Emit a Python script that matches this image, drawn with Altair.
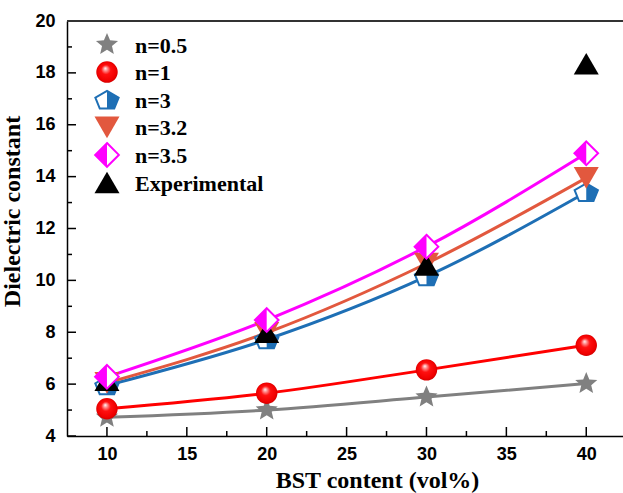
import altair as alt
import pandas as pd

# ---------------- data ----------------
bst = [10, 20, 30, 40]
n05 = [4.72, 5.0, 5.5, 6.02]
n1 = [5.05, 5.65, 6.55, 7.5]
n3 = [5.95, 7.72, 10.15, 13.4]
n32 = [6.05, 7.98, 10.65, 13.95]
n35 = [6.28, 8.47, 11.3, 14.9]
exper = [6.15, 8.0, 10.6, 18.35]

series_names = ["n=0.5", "n=1", "n=3", "n=3.2", "n=3.5", "Experimental"]
series_values = [n05, n1, n3, n32, n35, exper]

y_ticks = [4, 6, 8, 10, 12, 14, 16, 18, 20]
y_minor = [5, 7, 9, 11, 13, 15, 17, 19]
x_ticks = [10, 15, 20, 25, 30, 35, 40]
x_minor = [12.5, 17.5, 22.5, 27.5, 32.5, 37.5]

# ---------------- styles ----------------
W, H = 556, 415
GRAY = "#808080"
RED = "#ff0000"
BLUE = "#1e6fb5"
ORANGE = "#e2583e"
MAG = "#ff00ff"

STAR = ("M0,-1L0.265,-0.364L0.951,-0.309L0.428,0.139L0.588,0.809L0,0.45"
        "L-0.588,0.809L-0.428,0.139L-0.951,-0.309L-0.265,-0.364Z")
PENT = "M0,-0.72L0.95,-0.17L0.59,0.72L-0.59,0.72L-0.95,-0.17Z"
PENT_R = "M0,-0.72L0.95,-0.17L0.59,0.72L0,0.72Z"
DIAM = "M0,-1L1,0L0,1L-1,0Z"
DIAM_L = "M0,-1L0,1L-1,0Z"

sphere = alt.RadialGradient(
    gradient="radial",
    x1=0.42, y1=0.32, r1=0,
    x2=0.5, y2=0.5, r2=0.55,
    stops=[
        alt.GradientStop(color="#ffffff", offset=0.0),
        alt.GradientStop(color="#ff9a9a", offset=0.15),
        alt.GradientStop(color="#ff1010", offset=0.4),
        alt.GradientStop(color="#f00000", offset=0.8),
        alt.GradientStop(color="#c00000", offset=1.0),
    ],
)

marker_styles = {
    "n=0.5": [dict(shape=STAR, fill=GRAY, size=540)],
    "n=1": [dict(shape="circle", fill=sphere, size=460)],
    "n=3": [dict(shape=PENT, fill="white", stroke=BLUE, strokeWidth=2, size=600),
            dict(shape=PENT_R, fill=BLUE, size=600)],
    "n=3.2": [dict(shape="triangle-down", fill=ORANGE, size=625)],
    "n=3.5": [dict(shape=DIAM, fill="white", stroke=MAG, strokeWidth=2, size=560),
              dict(shape=DIAM_L, fill=MAG, size=560)],
    "Experimental": [dict(shape="triangle-up", fill="black", size=625)],
}
marker_order = ["n=0.5", "n=1", "n=3", "n=3.2", "Experimental", "n=3.5"]

rows = []
for name, vals in zip(series_names, series_values):
    for xv, yv in zip(bst, vals):
        rows.append({"series": name, "bst": xv, "eps": yv})
df = pd.DataFrame(rows)
legend_df = pd.DataFrame({"series": series_names})

# ---------------- scales / axes ----------------
xscale = alt.Scale(domain=[7.5, 42.3], nice=False, zero=False)
yscale = alt.Scale(domain=[4, 20], nice=False, zero=False)

xaxis = alt.Axis(
    values=x_ticks, format="d", ticks=False, grid=False,
    domainColor="black", domainWidth=1.5,
    labelFont="Liberation Sans", labelFontWeight="bold", labelFontSize=18,
    labelColor="black", labelPadding=9, labelFlush=False,
    titleFont="Liberation Serif", titleFontWeight="bold", titleFontSize=24,
    titleColor="black", titlePadding=5, titleX=310,
)
yaxis = alt.Axis(
    values=y_ticks, format="d", ticks=False, grid=False,
    domainColor="black", domainWidth=1.5,
    labelFont="Liberation Sans", labelFontWeight="bold", labelFontSize=18,
    labelColor="black", labelPadding=12, labelFlush=False,
    titleFont="Liberation Serif", titleFontWeight="bold", titleFontSize=24,
    titleColor="black", titlePadding=10, titleY=190,
)
XT = "BST content (vol%)"
YT = "Dielectric constant"


def X(field):
    return alt.X(field, type="quantitative", scale=xscale, axis=xaxis, title=XT)


def Y(field):
    return alt.Y(field, type="quantitative", scale=yscale, axis=yaxis, title=YT)


base = alt.Chart(df)

line_names = series_names[:-1]
lines = base.transform_filter(
    alt.FieldOneOfPredicate(field="series", oneOf=line_names)
).mark_line(strokeWidth=3, interpolate="monotone").encode(
    x=X("bst"), y=Y("eps"),
    color=alt.Color("series:N", scale=alt.Scale(domain=line_names,
                    range=[GRAY, RED, BLUE, ORANGE, MAG]), legend=None),
    detail="series:N",
)


def point_layers(src, name, xenc, yenc):
    out = []
    for st in marker_styles[name]:
        kw = dict(st)
        out.append(
            src.transform_filter(alt.datum.series == name)
            .mark_point(filled=True, opacity=1, fillOpacity=1, **kw)
            .encode(x=xenc, y=yenc)
        )
    return out


main_layers = [lines]
for nm in marker_order:
    main_layers += point_layers(base, nm, X("bst"), Y("eps"))

# inward tick marks
ymaj = alt.Chart(pd.DataFrame({"v": y_ticks})).mark_rule(color="black", strokeWidth=1.5).encode(
    y=Y("v"), x=alt.value(0), x2=alt.value(9))
ymin = alt.Chart(pd.DataFrame({"v": y_minor})).mark_rule(color="black", strokeWidth=1.5).encode(
    y=Y("v"), x=alt.value(0), x2=alt.value(5))
xmaj = alt.Chart(pd.DataFrame({"v": x_ticks})).mark_rule(color="black", strokeWidth=1.5).encode(
    x=X("v"), y=alt.value(H), y2=alt.value(H - 9))
xmin = alt.Chart(pd.DataFrame({"v": x_minor})).mark_rule(color="black", strokeWidth=1.5).encode(
    x=X("v"), y=alt.value(H), y2=alt.value(H - 5))
topline = alt.Chart(pd.DataFrame({"a": [0]})).mark_rule(color="#333333", strokeWidth=2).encode(
    x=alt.value(0), x2=alt.value(W), y=alt.value(0))

main = alt.layer(ymaj, ymin, xmaj, xmin, topline, *main_layers)

# in-plot legend
lscale = alt.Scale(type="point", domain=series_names, range=[23.5, 161.5], padding=0)
ly = alt.Y("series:N", scale=lscale, axis=None)
lbase = alt.Chart(legend_df)
leg_layers = []
for nm in series_names:
    leg_layers += point_layers(lbase, nm, alt.value(40), ly)
leg_text = lbase.mark_text(
    align="left", baseline="middle", font="Liberation Serif", fontSize=22,
    fontWeight="bold", color="black", dy=1,
).encode(x=alt.value(68), y=ly, text="series:N")
legend = alt.layer(*leg_layers, leg_text)

chart = alt.layer(main, legend).resolve_scale(y="independent").properties(
    width=W, height=H,
    autosize=alt.AutoSizeParams(type="none"),
    padding={"left": 67, "top": 21, "right": 0, "bottom": 57},
    background="white",
).configure_view(stroke=None)

chart.save("out.html", embed_options={"renderer": "svg", "actions": False})
